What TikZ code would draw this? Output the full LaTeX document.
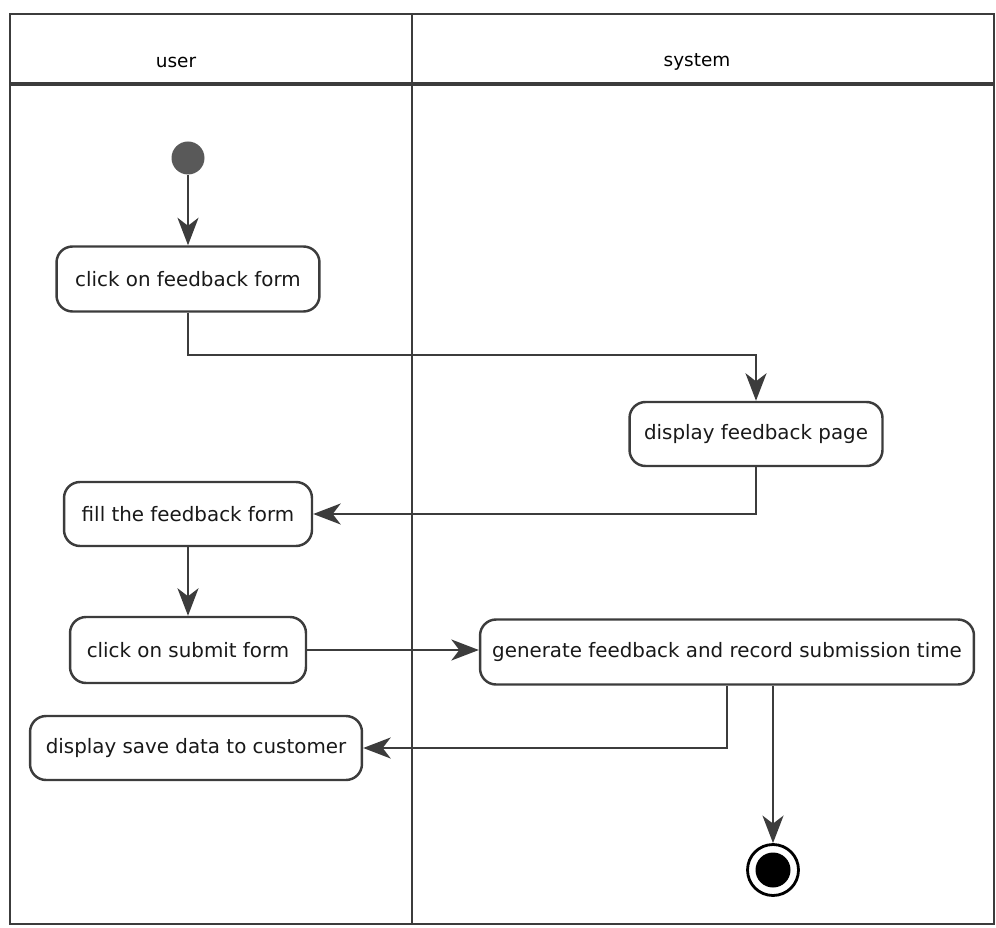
\documentclass[tikz,border=0pt]{standalone}
\usepackage{fontspec}
\setmainfont{DejaVu Sans}
\usetikzlibrary{arrows.meta}
\definecolor{ink}{HTML}{3C3C3C}
\tikzset{
  act/.style={draw=ink, line width=1.4pt, rounded corners=0.32cm, fill=white,
    inner sep=0pt, minimum height=1.3cm, font=\fontsize{11.3}{13}\selectfont, text=black!90},
  arr/.style={draw=ink, line width=1.3pt, -{Stealth[length=0.55cm,width=0.42cm,inset=0.16cm]}},
  lane/.style={draw=ink, line width=1.1pt},
}
\begin{document}
\begin{tikzpicture}[x=0.02cm,y=-0.02cm]
\useasboundingbox (0,0) rectangle (996,928);
% swimlane frame
\draw[lane] (10,14) rectangle (994,924);
\draw[lane, line width=1.8pt] (10,84) -- (994,84);
\draw[lane] (412,14) -- (412,924);
\node[font=\fontsize{10.5}{12}\selectfont] (lu) at (176,62) {user};
\node[font=\fontsize{10.5}{12}\selectfont] (ls) at (697,62) {system};
% nodes
\node[circle, fill=ink!85, minimum size=0.66cm, inner sep=0pt] (start) at (188,158) {};
\node[act, minimum width=5.26cm] (b1) at (188,279) {click on feedback form};
\node[act, minimum width=5.06cm, minimum height=1.28cm] (b2) at (756,434) {display feedback page};
\node[act, minimum width=4.96cm, minimum height=1.28cm] (b3) at (188,514) {fill the feedback form};
\node[act, minimum width=4.72cm, minimum height=1.32cm] (b4) at (188,650) {click on submit form};
\node[act, minimum width=9.88cm] (b5) at (727,652) {generate feedback and record submission time};
\node[act, minimum width=6.64cm, minimum height=1.28cm] (b6) at (196,748) {display save data to customer};
\node[circle, draw=black, line width=1.6pt, minimum size=1.02cm, inner sep=0pt] (fin) at (773,870) {};
\node[circle, fill=black, minimum size=0.7cm, inner sep=0pt] (fincore) at (fin) {};
\coordinate (k1) at (500,355);
% connectors
\draw[arr] (start) -- (b1);
\draw[arr] (b1.south) |- (k1) -| (b2.north);
\draw[arr] (b2.south) |- (b3.east);
\draw[arr] (b3.south) -- (b4.north);
\draw[arr] (b4.east) -- (b4.east -| b5.west);
\draw[arr] (b5.south) |- (b6.east);
\draw[arr] (b5.south -| fin) -- (fin.north);
\end{tikzpicture}
\end{document}
